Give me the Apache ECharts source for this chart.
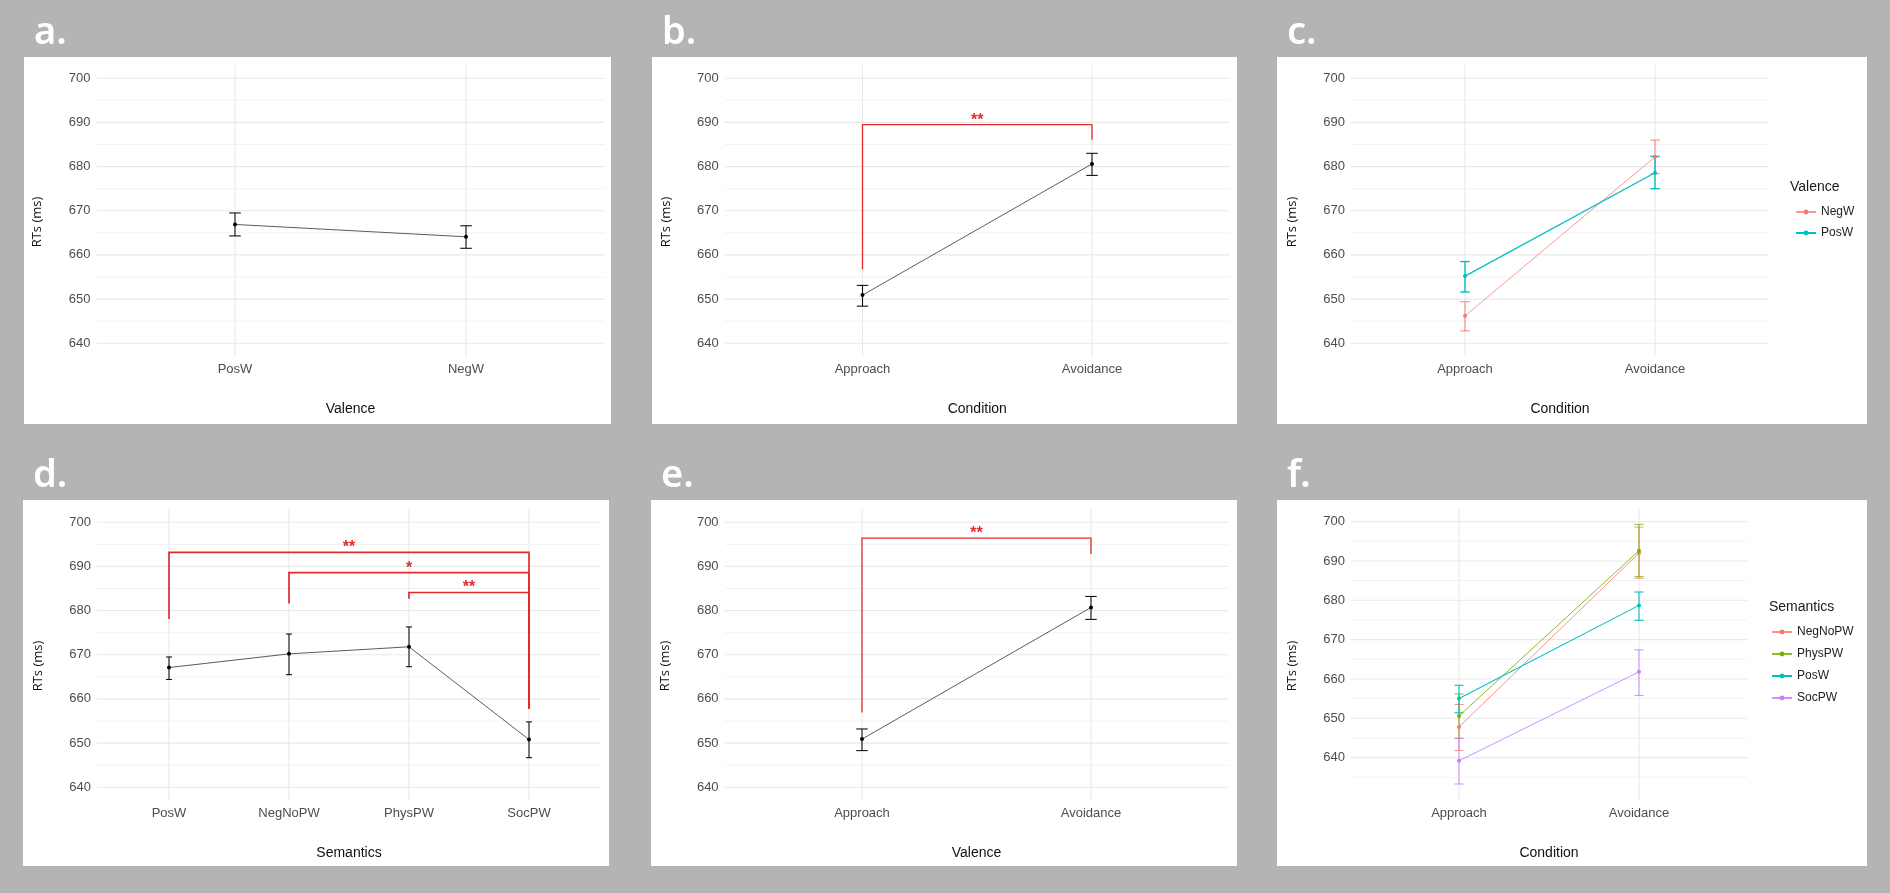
<!DOCTYPE html>
<html><head><meta charset="utf-8">
<script src="https://cdn.jsdelivr.net/npm/echarts@6/dist/echarts.min.js"></script>
<style>html,body{margin:0;padding:0;background:#b4b4b5;}#c{width:1890px;height:893px;}</style>
</head><body><div id="c"></div>
<script>
// ---------- DATA ----------
const yTicks = [640, 650, 660, 670, 680, 690, 700];
const yMinor = [645, 655, 665, 675, 685, 695];
const yMinorF = [635, 645, 655, 665, 675, 685, 695];

const valenceCats = ['PosW', 'NegW'];
const conditionCats = ['Approach', 'Avoidance'];
const semanticsCats = ['PosW', 'NegNoPW', 'PhysPW', 'SocPW'];

// a. Valence
const aMean = [666.9, 664.1];
const aLo = [664.3, 661.5];
const aHi = [669.5, 666.6];

// b. Condition
const bMean = [650.9, 680.6];
const bLo = [648.4, 678.0];
const bHi = [653.1, 683.0];
const bBrackets = [[0, 1, 689.5, 656.7, 686.1]];
const bStars = ['**'];

// c. Condition x Valence
const cNegWMean = [646.2, 682.2];
const cNegWLo = [642.8, 678.4];
const cNegWHi = [649.4, 686.0];
const cPosWMean = [655.2, 678.6];
const cPosWLo = [651.6, 675.0];
const cPosWHi = [658.5, 682.3];

// d. Semantics
const dMean = [667.1, 670.2, 671.8, 650.8];
const dLo = [664.4, 665.5, 667.3, 646.7];
const dHi = [669.5, 674.7, 676.3, 654.8];
const dBrackets = [[0, 3, 693.2, 678.1, 657.8], [1, 3, 688.6, 681.6, 657.8], [2, 3, 684.1, 682.7, 657.8]];
const dStars = ['**', '*', '**'];

// e. (x title Valence)
const eMean = [650.9, 680.7];
const eLo = [648.3, 678.0];
const eHi = [653.2, 683.2];
const eBrackets = [[0, 1, 696.4, 656.9, 692.8]];
const eStars = ['**'];

// f. Condition x Semantics
const fNegNoPWMean = [647.8, 692.0];
const fNegNoPWLo = [641.8, 685.6];
const fNegNoPWHi = [653.5, 698.6];
const fPhysPWMean = [650.6, 692.6];
const fPhysPWLo = [644.9, 686.0];
const fPhysPWHi = [656.2, 699.3];
const fPosWMean = [655.0, 678.7];
const fPosWLo = [651.4, 674.9];
const fPosWHi = [658.4, 682.1];
const fSocPWMean = [639.2, 661.8];
const fSocPWLo = [633.3, 655.8];
const fSocPWHi = [644.9, 667.4];

// ---------- LAYOUT / STYLE ----------
const FONT = '"Liberation Sans", Arial, sans-serif';
const RED = '#e42a2b';
const COL = {NegW: '#F8766D', PosW: '#00BFC4', NegNoPW: '#F8766D', PhysPW: '#7CAE00', SocPW: '#C77CFF'};

const panels = [
  {label: 'a.', rect: [24, 57, 587, 367], grid: [96.4, 65, 508.2, 291.5], cats: valenceCats, xTitle: 'Valence', yMin: 637, yMax: 703, minor: yMinor},
  {label: 'b.', rect: [652, 57, 585, 367], grid: [724.8, 65, 504.9, 291.5], cats: conditionCats, xTitle: 'Condition', yMin: 637, yMax: 703, minor: yMinor},
  {label: 'c.', rect: [1277, 57, 590, 367], grid: [1351, 65, 418, 291.5], cats: conditionCats, xTitle: 'Condition', yMin: 637, yMax: 703, minor: yMinor},
  {label: 'd.', rect: [23, 500, 586, 366], grid: [97, 509, 504, 291.5], cats: semanticsCats, xTitle: 'Semantics', yMin: 637, yMax: 703, minor: yMinor},
  {label: 'e.', rect: [651, 500, 586, 366], grid: [724.6, 509, 503.8, 291.5], cats: conditionCats, xTitle: 'Valence', yMin: 637, yMax: 703, minor: yMinor},
  {label: 'f.', rect: [1277, 500, 590, 366], grid: [1351, 509, 396, 291.5], cats: conditionCats, xTitle: 'Condition', yMin: 629.1, yMax: 703.2, minor: yMinorF}
];
panels.forEach(p => { p.xMin = -0.6; p.xMax = p.cats.length - 0.4; });

const grids = [], xAxes = [], yAxes = [], series = [], graphics = [];

panels.forEach((p, i) => {
  const [gl, gt, gw, gh] = p.grid;
  grids.push({left: gl, top: gt, width: gw, height: gh, containLabel: false});
  xAxes.push({
    type: 'value', gridIndex: i, min: p.xMin, max: p.xMax,
    axisLine: {show: false}, axisTick: {show: false}, splitLine: {show: false},
    axisLabel: {customValues: p.cats.map((c, k) => k), formatter: v => p.cats[Math.round(v)],
      color: '#4d4d4d', fontSize: 13, fontFamily: FONT, margin: 6}
  });
  yAxes.push({
    type: 'value', gridIndex: i, min: p.yMin, max: p.yMax,
    axisLine: {show: false}, axisTick: {show: false}, splitLine: {show: false},
    axisLabel: {customValues: yTicks, color: '#4d4d4d', fontSize: 13, fontFamily: FONT, margin: 6}
  });
  // white panel
  graphics.push({type: 'rect', z: -10, shape: {x: p.rect[0], y: p.rect[1], width: p.rect[2], height: p.rect[3]}, style: {fill: '#ffffff'}});
  // panel letter
  graphics.push({type: 'text', z: 5, x: p.rect[0] + 10, y: p.rect[1] - 24, style: {text: p.label, fill: '#ffffff', font: '600 38px "Noto Sans", "Open Sans", sans-serif', align: 'left', verticalAlign: 'middle'}});
  // axis titles
  graphics.push({type: 'text', z: 5, x: gl + gw / 2, y: gt + gh + 53, style: {text: p.xTitle, fill: '#111', font: '14px ' + FONT, align: 'center', verticalAlign: 'middle'}});
  graphics.push({type: 'text', z: 5, x: gl - 59, y: gt + 157, rotation: Math.PI / 2, style: {text: 'RTs (ms)', fill: '#111', font: '13px "Open Sans", ' + FONT, align: 'center', verticalAlign: 'middle'}});

  // gridlines
  const items = [];
  p.minor.forEach(v => items.push([0, v]));
  yTicks.forEach(v => items.push([1, v]));
  p.cats.forEach((c, k) => items.push([2, k]));
  series.push({
    type: 'custom', xAxisIndex: i, yAxisIndex: i, z: 1, silent: true, data: items,
    renderItem: (params, api) => {
      const kind = api.value(0), v = api.value(1);
      let a, b;
      if (kind === 2) { a = api.coord([v, p.yMax]); b = api.coord([v, p.yMin]); }
      else { a = api.coord([p.xMin, v]); b = api.coord([p.xMax, v]); }
      return {type: 'line', shape: {x1: a[0], y1: a[1], x2: b[0], y2: b[1]},
        style: {stroke: kind === 0 ? '#f1f1f1' : '#e9e9e9', lineWidth: kind === 0 ? 0.9 : 1.1}};
    }
  });
});

function meanSeries(name, idx, means, ptColor, lineColor, lw, z) {
  return {type: 'line', name, xAxisIndex: idx, yAxisIndex: idx, data: means.map((m, k) => [k, m]),
    symbol: 'circle', symbolSize: 4, itemStyle: {color: ptColor}, lineStyle: {color: lineColor, width: lw},
    z: z || 3, silent: true, emphasis: {disabled: true}};
}
function errSeries(name, idx, lo, hi, color, lw) {
  const cap = 0.025;
  return {type: 'custom', name, xAxisIndex: idx, yAxisIndex: idx, z: 3, silent: true,
    data: lo.map((l, k) => [k, l, hi[k]]),
    renderItem: (params, api) => {
      const x = api.value(0), l = api.value(1), h = api.value(2);
      const t = api.coord([x, h]), b = api.coord([x, l]);
      const tl = api.coord([x - cap, h]), tr = api.coord([x + cap, h]);
      const bl = api.coord([x - cap, l]), br = api.coord([x + cap, l]);
      const st = {stroke: color, lineWidth: lw, fill: null};
      return {type: 'group', children: [
        {type: 'line', shape: {x1: t[0], y1: t[1], x2: b[0], y2: b[1]}, style: st},
        {type: 'line', shape: {x1: tl[0], y1: tl[1], x2: tr[0], y2: tr[1]}, style: st},
        {type: 'line', shape: {x1: bl[0], y1: bl[1], x2: br[0], y2: br[1]}, style: st}
      ]};
    }};
}
function bracketSeries(idx, brackets, stars, lw) {
  return {type: 'custom', xAxisIndex: idx, yAxisIndex: idx, z: 4, silent: true, data: brackets,
    renderItem: (params, api) => {
      const x1 = api.value(0), x2 = api.value(1), yT = api.value(2), yL = api.value(3), yR = api.value(4);
      const p1 = api.coord([x1, yL]), p2 = api.coord([x1, yT]), p3 = api.coord([x2, yT]), p4 = api.coord([x2, yR]);
      const mid = api.coord([(x1 + x2) / 2, yT]);
      return {type: 'group', children: [
        {type: 'polyline', shape: {points: [p1, p2, p3, p4]}, style: {stroke: RED, lineWidth: lw, fill: null}},
        {type: 'text', x: mid[0], y: mid[1] - 4.5, style: {text: stars[params.dataIndex], fill: RED, font: 'bold 16px ' + FONT, align: 'center', verticalAlign: 'middle'}}
      ]};
    }};
}

// a
series.push(meanSeries('mean a', 0, aMean, '#000', '#4a4a4a', 0.9));
series.push(errSeries('err a', 0, aLo, aHi, '#111', 1.1));
// b
series.push(meanSeries('mean b', 1, bMean, '#000', '#4a4a4a', 0.9));
series.push(errSeries('err b', 1, bLo, bHi, '#111', 1.1));
series.push(bracketSeries(1, bBrackets, bStars, 1.3));
// c
series.push(meanSeries('NegW', 2, cNegWMean, COL.NegW, 'rgba(248,118,109,0.75)', 1));
series.push(errSeries('err c NegW', 2, cNegWLo, cNegWHi, 'rgba(248,118,109,0.85)', 1.1));
series.push(meanSeries('PosW', 2, cPosWMean, COL.PosW, COL.PosW, 1.3));
series.push(errSeries('err c PosW', 2, cPosWLo, cPosWHi, COL.PosW, 1.4));
// d
series.push(meanSeries('mean d', 3, dMean, '#000', '#4a4a4a', 0.9));
series.push(errSeries('err d', 3, dLo, dHi, '#111', 1.1));
series.push(bracketSeries(3, dBrackets, dStars, 1.7));
// e
series.push(meanSeries('mean e', 4, eMean, '#000', '#4a4a4a', 0.9));
series.push(errSeries('err e', 4, eLo, eHi, '#111', 1.1));
series.push(bracketSeries(4, eBrackets, eStars, 1.3));
// f
series.push(meanSeries('NegNoPW', 5, fNegNoPWMean, COL.NegNoPW, 'rgba(248,118,109,0.8)', 1));
series.push(errSeries('err f NegNoPW', 5, fNegNoPWLo, fNegNoPWHi, 'rgba(248,118,109,0.8)', 1));
series.push(meanSeries('PhysPW', 5, fPhysPWMean, COL.PhysPW, 'rgba(124,174,0,0.85)', 1));
series.push(errSeries('err f PhysPW', 5, fPhysPWLo, fPhysPWHi, 'rgba(124,174,0,0.85)', 1));
series.push(meanSeries('PosW', 5, fPosWMean, COL.PosW, COL.PosW, 1.1));
series.push(errSeries('err f PosW', 5, fPosWLo, fPosWHi, COL.PosW, 1.1));
series.push(meanSeries('SocPW', 5, fSocPWMean, COL.SocPW, 'rgba(199,124,255,0.85)', 1));
series.push(errSeries('err f SocPW', 5, fSocPWLo, fSocPWHi, 'rgba(199,124,255,0.85)', 1));

// legend titles
graphics.push({type: 'text', z: 5, x: 1790, y: 187, style: {text: 'Valence', fill: '#1a1a1a', font: '14px ' + FONT, align: 'left', verticalAlign: 'middle'}});
graphics.push({type: 'text', z: 5, x: 1769, y: 607, style: {text: 'Semantics', fill: '#1a1a1a', font: '14px ' + FONT, align: 'left', verticalAlign: 'middle'}});

const chart = echarts.init(document.getElementById('c'), null, {width: 1890, height: 893});
chart.setOption({
  animation: false,
  backgroundColor: '#b4b4b5',
  grid: grids,
  xAxis: xAxes,
  yAxis: yAxes,
  legend: [
    {data: ['NegW', 'PosW'], orient: 'vertical', left: 1795, top: 201.5, padding: 0, itemGap: 0,
      itemWidth: 20, itemHeight: 6, selectedMode: false,
      textStyle: {fontSize: 12, lineHeight: 21, color: '#222', fontFamily: FONT}},
    {data: ['NegNoPW', 'PhysPW', 'PosW', 'SocPW'], orient: 'vertical', left: 1771, top: 621, padding: 0, itemGap: 0,
      itemWidth: 20, itemHeight: 6, selectedMode: false,
      textStyle: {fontSize: 12, lineHeight: 22, color: '#222', fontFamily: FONT}}
  ],
  graphic: {elements: graphics},
  series: series
});
</script>
</body></html>
